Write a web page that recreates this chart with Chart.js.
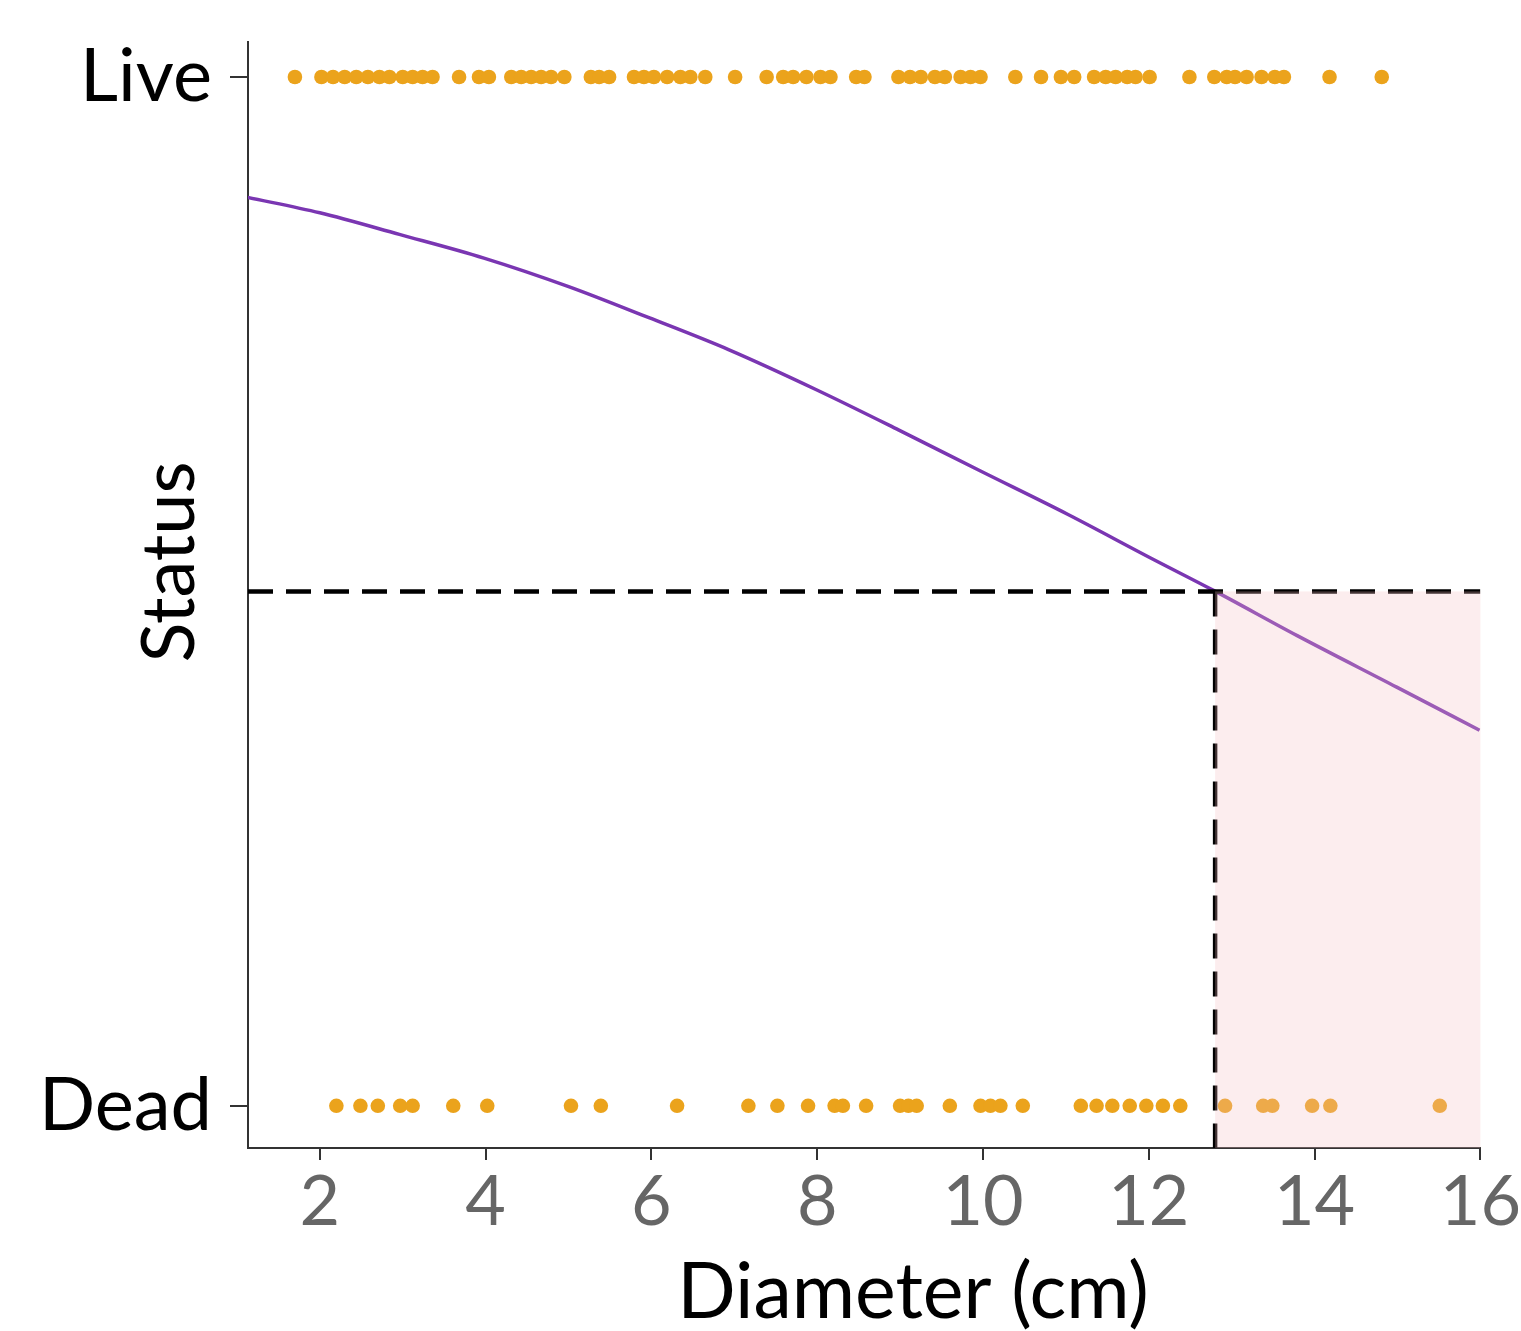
<!DOCTYPE html>
<html>
<head>
<meta charset="utf-8">
<script src="https://cdn.jsdelivr.net/npm/chart.js@4/dist/chart.umd.min.js"></script>
<style>
  html, body { margin: 0; padding: 0; background: #ffffff; }
  #wrap { width: 1521px; height: 1331px; position: relative; }
</style>
</head>
<body>
<div id="wrap"><canvas id="c"></canvas></div>
<script>
// ---- Data ----
const liveDiameters = [
  1.70, 2.02, 2.16, 2.30, 2.44, 2.58, 2.72, 2.84, 3.00, 3.12, 3.24, 3.36,
  3.68, 3.92, 4.04, 4.31, 4.43, 4.55, 4.67, 4.79, 4.95, 5.27, 5.37, 5.49,
  5.79, 5.91, 6.03, 6.19, 6.35, 6.47, 6.65, 7.01, 7.39, 7.59, 7.71, 7.87,
  8.04, 8.16, 8.47, 8.57, 8.98, 9.12, 9.25, 9.42, 9.54, 9.73, 9.85, 9.97,
  10.39, 10.70, 10.94, 11.10, 11.34, 11.48, 11.60, 11.74, 11.84, 12.01,
  12.49, 12.79, 12.94, 13.04, 13.18, 13.36, 13.52, 13.63, 14.18, 14.81
];
const deadDiameters = [
  2.20, 2.49, 2.70, 2.97, 3.12, 3.61, 4.02, 5.03, 5.39, 6.31, 7.17, 7.52,
  7.89, 8.21, 8.31, 8.59, 9.00, 9.10, 9.20, 9.60, 9.97, 10.09, 10.21, 10.48,
  11.18, 11.37, 11.56, 11.77, 11.97, 12.17, 12.38, 12.92, 13.38, 13.49,
  13.97, 14.19, 15.51
];
const curveX = [1.13, 2.00, 2.96, 3.98, 5.01, 5.97, 6.93, 7.99, 8.98, 9.97, 11.02, 12.01, 12.78, 13.79, 14.99, 15.99];
const curveY = [0.883, 0.868, 0.847, 0.824, 0.796, 0.766, 0.735, 0.696, 0.657, 0.617, 0.575, 0.533, 0.501, 0.457, 0.407, 0.365];
const statusLabels = ['Dead', 'Live'];          // y = 0, y = 1
const xTickValues = [2, 4, 6, 8, 10, 12, 14, 16];
const THRESHOLD = 0.5;
const CUTOFF = 12.8;
const X_MIN = 1.134, X_MAX = 16;
const Y_MIN = -0.041, Y_MAX = 1.034;

// ---- Build datasets ----
const livePts = liveDiameters.map(x => ({x, y: 1}));
const deadPts = deadDiameters.map(x => ({x, y: 0}));
const curvePts = curveX.map((x, i) => ({x, y: curveY[i]}));
const hLine = [{x: X_MIN, y: THRESHOLD}, {x: X_MAX, y: THRESHOLD}];
const vLine = [{x: CUTOFF, y: THRESHOLD}, {x: CUTOFF, y: Y_MIN}];

const FONT = 'Lato';
const DOT = '#EBA31C';

const overlayPlugin = {
  id: 'overlay',
  afterDatasetsDraw(chart) {
    const {ctx, scales: {x, y}} = chart;
    const l = x.getPixelForValue(CUTOFF), r = x.getPixelForValue(X_MAX);
    const t = y.getPixelForValue(THRESHOLD), b = y.getPixelForValue(Y_MIN);
    ctx.save();
    ctx.fillStyle = 'rgba(245,190,195,0.28)';
    ctx.fillRect(l, t, r - l, b - t);
    ctx.restore();
  },
  afterDraw(chart) {
    const {ctx, chartArea} = chart;
    ctx.save();
    ctx.fillStyle = '#000';
    ctx.font = '74px ' + FONT;
    ctx.textAlign = 'center';
    ctx.textBaseline = 'middle';
    ctx.translate(chartArea.left - 78, 562);
    ctx.rotate(-Math.PI / 2);
    ctx.fillText('Status', 0, 0);
    ctx.restore();
    ctx.save();
    ctx.fillStyle = '#000';
    ctx.font = '77px ' + FONT;
    ctx.textAlign = 'center';
    ctx.textBaseline = 'middle';
    ctx.fillText('Diameter (cm)', 913, 1293);
    ctx.restore();
  }
};

new Chart(document.getElementById('c'), {
  type: 'scatter',
  data: {
    datasets: [
      {data: curvePts, showLine: true, borderColor: '#7A36B2', borderWidth: 3.5, pointRadius: 0, cubicInterpolationMode: 'monotone', order: 3},
      {data: livePts, backgroundColor: DOT, borderColor: DOT, pointRadius: 7.3, borderWidth: 0, order: 4},
      {data: deadPts, backgroundColor: DOT, borderColor: DOT, pointRadius: 7.3, borderWidth: 0, order: 4},
      {data: hLine, showLine: true, borderColor: '#000', borderWidth: 4.5, borderDash: [25, 13], pointRadius: 0, order: 1},
      {data: vLine, showLine: true, borderColor: '#000', borderWidth: 4.5, borderDash: [25, 13], pointRadius: 0, order: 1}
    ]
  },
  options: {
    responsive: true,
    maintainAspectRatio: false,
    animation: false,
    layout: {padding: {top: 42, right: 0, bottom: 87, left: 0}},
    plugins: {legend: {display: false}, tooltip: {enabled: false}},
    scales: {
      x: {
        type: 'linear', min: X_MIN, max: X_MAX,
        afterBuildTicks: s => { s.ticks = xTickValues.map(v => ({value: v})); },
        ticks: {color: '#666', font: {family: FONT, size: 70}, padding: 0, autoSkip: false, maxRotation: 0},
        grid: {drawOnChartArea: false, drawTicks: true, tickLength: 12, color: '#333', lineWidth: 2},
        border: {display: true, color: '#333', width: 2},
        title: {display: false}
      },
      y: {
        type: 'linear', min: Y_MIN, max: Y_MAX,
        afterBuildTicks: s => { s.ticks = [{value: 0}, {value: 1}]; },
        afterFit: s => { s.width = 248; },
        ticks: {color: '#000', font: {family: FONT, size: 74, lineHeight: 0.5}, padding: 18,
                callback: v => statusLabels[v]},
        grid: {drawOnChartArea: false, drawTicks: true, tickLength: 18, color: '#333', lineWidth: 2},
        border: {display: true, color: '#333', width: 2},
        title: {display: false}
      }
    }
  },
  plugins: [overlayPlugin]
});
</script>
</body>
</html>
